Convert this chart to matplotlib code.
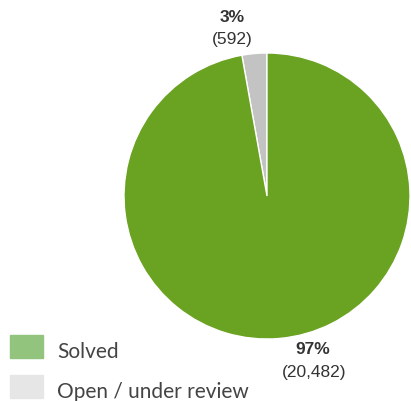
import matplotlib.pyplot as plt
from matplotlib.patches import Rectangle

labels = ['Solved', 'Open / under review']
counts = [20482, 592]
pcts = ['97%', '3%']
pie_colors = ['#6aa222', '#c3c3c3']
legend_colors = ['#93c47d', '#e6e6e6']

fig = plt.figure(figsize=(4.11, 4.01), dpi=100)
ax = fig.add_axes([0, 0, 1, 1])

# draw open slice first so it sits just left of 12 o'clock
ax.pie(counts[::-1], colors=pie_colors[::-1], startangle=90, counterclock=True,
       center=(267, 205), radius=143, frame=True,
       wedgeprops=dict(edgecolor='white', linewidth=1))
ax.set_xlim(0, 411)
ax.set_ylim(0, 401)
ax.set_aspect('equal')
ax.axis('off')

# slice labels
lab_font = dict(ha='center', va='center', fontsize=12.5, color='#333333', family='Liberation Sans')
ax.text(232, 384, pcts[1], fontweight='bold', **lab_font)
ax.text(232, 361.5, '(' + format(counts[1], ',') + ')', **lab_font)
ax.text(313, 51, pcts[0], fontweight='bold', **lab_font)
ax.text(314, 29, '(' + format(counts[0], ',') + ')', **lab_font)

# legend
for i, (lab, c) in enumerate(zip(labels, legend_colors)):
    y = 43 - i * 40
    ax.add_patch(Rectangle((10, y), 33, 23, color=c))
    ax.text(57, y, lab, ha='left', va='baseline', fontsize=15, color='#444444',
            family='Lato')

fig.savefig('out.png', dpi=100)
